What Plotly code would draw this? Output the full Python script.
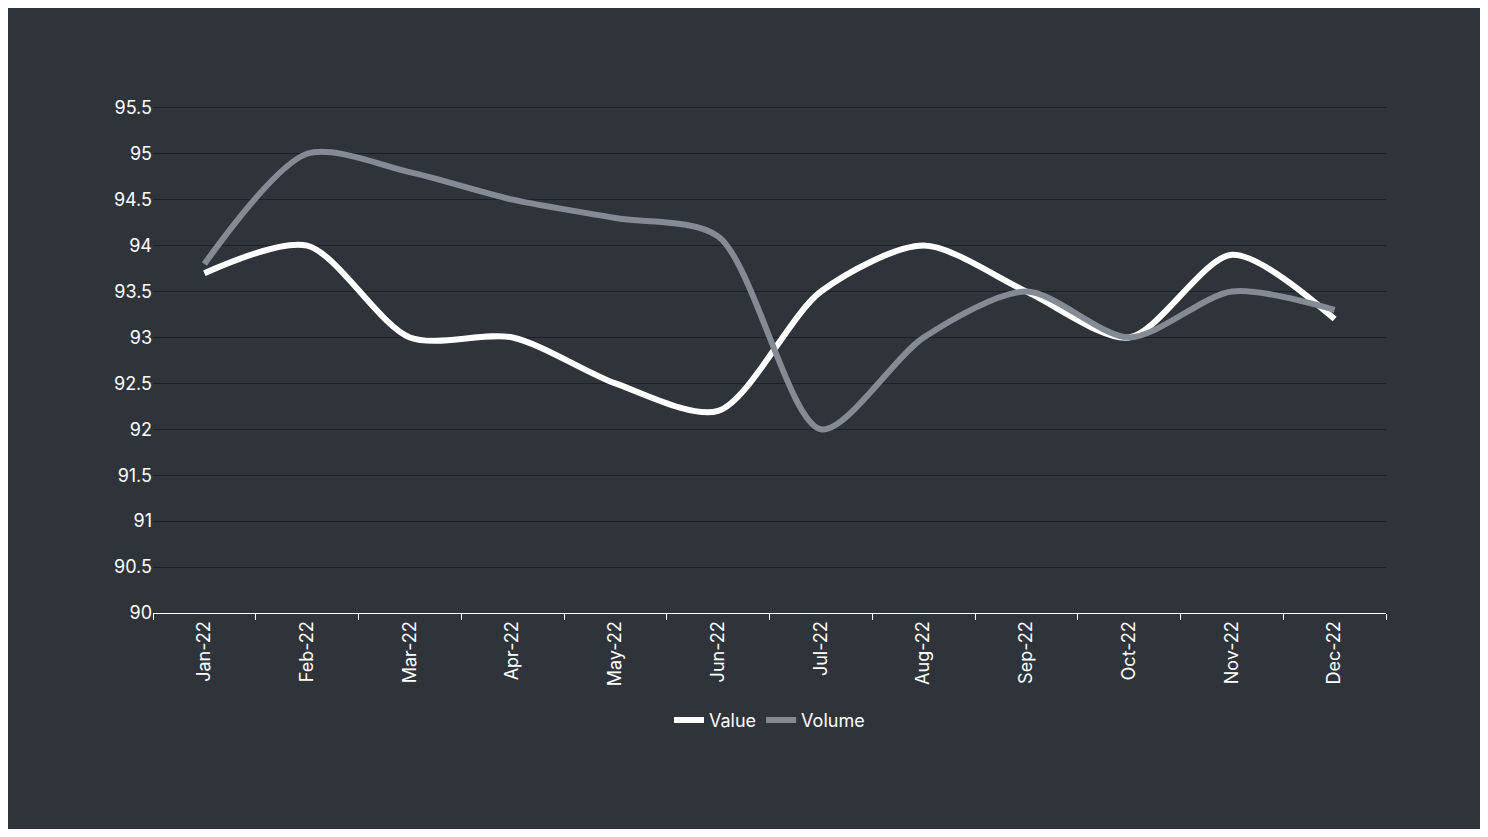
import plotly.graph_objects as go

months = ["Jan-22", "Feb-22", "Mar-22", "Apr-22", "May-22", "Jun-22",
          "Jul-22", "Aug-22", "Sep-22", "Oct-22", "Nov-22", "Dec-22"]
value = [93.7, 94.0, 93.0, 93.0, 92.5, 92.2, 93.5, 94.0, 93.5, 93.0, 93.9, 93.2]
volume = [93.8, 95.0, 94.8, 94.5, 94.3, 94.1, 92.0, 93.0, 93.5, 93.0, 93.5, 93.3]

bg = "#2f333a"
fig = go.Figure()
fig.add_trace(go.Scatter(x=months, y=value, name="Value", mode="lines",
                         line=dict(color="white", width=6, shape="spline", smoothing=0.8)))
fig.add_trace(go.Scatter(x=months, y=volume, name="Volume", mode="lines",
                         line=dict(color="#858b94", width=6, shape="spline", smoothing=0.8)))

fig.update_layout(
    width=1472, height=821,
    paper_bgcolor=bg, plot_bgcolor=bg,
    margin=dict(l=145, r=94, t=98, b=216),
    font=dict(family="Inter", color="white", size=18),
    showlegend=True,
    legend=dict(orientation="h", x=0.5, xanchor="center", y=-0.175, yanchor="top",
                font=dict(size=18), itemwidth=30),
)
fig.update_xaxes(type="category", range=[-0.5, 11.5], tickangle=-90,
                 tickson="boundaries", ticks="outside", ticklen=6, tickcolor="white",
                 showline=True, linecolor="white", linewidth=1, showgrid=False,
                 tickfont=dict(size=18))
fig.update_yaxes(range=[90, 95.52], tickvals=[90 + 0.5 * i for i in range(12)],
                 showgrid=True, gridcolor="#1c1f23",
                 zeroline=False, showline=False, tickfont=dict(size=18),
                 tickformat="~g")

fig.write_html("out.html")
